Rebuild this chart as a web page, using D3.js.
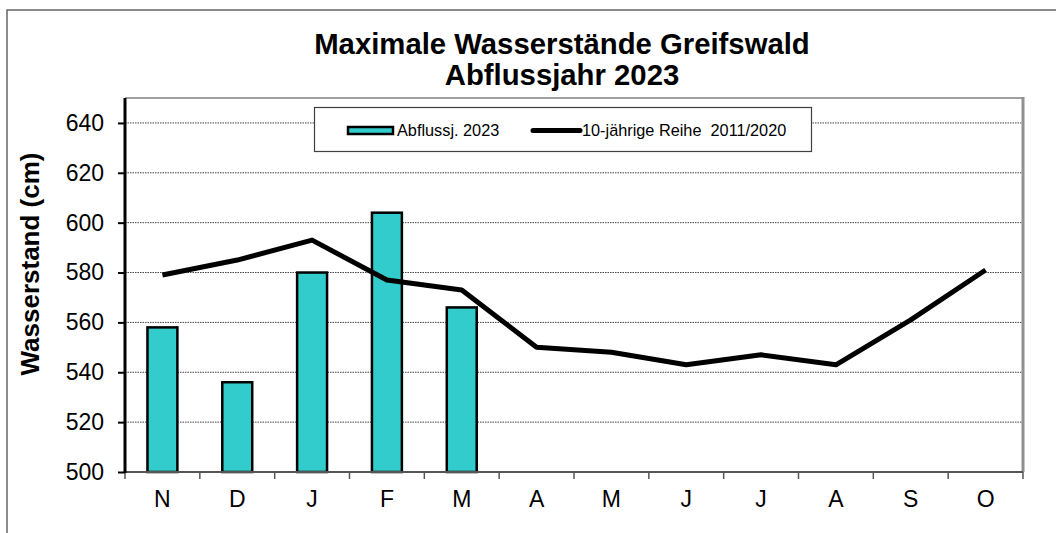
<!DOCTYPE html>
<meta charset="utf-8">
<style>
body { margin: 0; background: #fff; }
text { font-family: Arial, "Liberation Sans", sans-serif; fill: #000; }
.bar { fill: #33cccc; stroke: #000; stroke-width: 2.5; }
.grid line { stroke: #444; stroke-width: 1; stroke-dasharray: 1.5,1; }
.tick text { font-size: 23px; }
.legend text { font-size: 16.3px; }
</style>
<body>
<script src="https://cdnjs.cloudflare.com/ajax/libs/d3/7.8.5/d3.min.js"></script>
<script>
// months of the hydrological year (Nov - Oct)
const months = ["N", "D", "J", "F", "M", "A", "M", "J", "J", "A", "S", "O"];
// Abflussjahr 2023 (only Nov - Mar so far)
const values2023 = [558, 536, 580, 604, 566];
// 10-year series 2011/2020
const valuesMean = [579, 585, 593, 577, 573, 550, 548, 543, 547, 543, 561, 581];
const yTicks = [500, 520, 540, 560, 580, 600, 620, 640];
const yMax = 650;

const W = 1056, H = 533;
const margin = {top: 98, right: 33, bottom: 61, left: 125},
      width = W - margin.left - margin.right,
      height = H - margin.top - margin.bottom;

const svg = d3.select("body").append("svg")
    .attr("width", W)
    .attr("height", H);

// outer chart frame (runs off the right/bottom edge)
svg.append("path")
    .attr("d", "M7," + (H + 5) + "V10H" + (W + 5))
    .attr("fill", "none")
    .attr("stroke", "#666")
    .attr("stroke-width", 1.5);

// title
svg.append("text")
    .attr("x", 562).attr("y", 54)
    .attr("text-anchor", "middle")
    .style("font-size", "29.3px").style("font-weight", "bold")
    .text("Maximale Wasserstände Greifswald");
svg.append("text")
    .attr("x", 562).attr("y", 85)
    .attr("text-anchor", "middle")
    .style("font-size", "29.3px").style("font-weight", "bold")
    .text("Abflussjahr 2023");

// y axis title
svg.append("text")
    .attr("transform", "translate(39,264) rotate(-90)")
    .attr("text-anchor", "middle")
    .style("font-size", "26px").style("font-weight", "bold")
    .text("Wasserstand (cm)");

const g = svg.append("g")
    .attr("transform", "translate(" + margin.left + "," + margin.top + ")");

// scales
const idx = months.map((m, i) => i);
const xCat = d3.scaleBand().domain(idx).range([0, width]).padding(0);
const xBar = d3.scaleBand().domain(idx).range([0, width])
    .paddingInner(0.6).paddingOuter(0.3);
const y = d3.scaleLinear().domain([500, yMax]).range([height, 0]);

// gridlines
g.append("g").attr("class", "grid")
  .selectAll("line")
  .data(yTicks.slice(1))
  .enter().append("line")
    .attr("x1", 0).attr("x2", width)
    .attr("y1", d => y(d)).attr("y2", d => y(d));

// plot area border top/right
g.append("line")
    .attr("x1", 0).attr("x2", width + 1)
    .attr("y1", y(yMax)).attr("y2", y(yMax))
    .attr("stroke", "#a0a0a0").attr("stroke-width", 2);
g.append("line")
    .attr("x1", width).attr("x2", width)
    .attr("y1", y(yMax) - 1).attr("y2", height)
    .attr("stroke", "#909090").attr("stroke-width", 3);

// bars
g.selectAll(".bar")
    .data(values2023)
  .enter().append("rect")
    .attr("class", "bar")
    .attr("x", (d, i) => xBar(i))
    .attr("width", xBar.bandwidth())
    .attr("y", d => y(d))
    .attr("height", d => height - y(d));

// x axis
const xAxis = g.append("g")
    .attr("transform", "translate(0," + height + ")");
xAxis.append("line")
    .attr("x1", 0).attr("x2", width)
    .attr("stroke", "#555").attr("stroke-width", 2);
xAxis.selectAll(".xtick")
    .data(idx.concat([months.length]))
  .enter().append("line")
    .attr("class", "xtick")
    .attr("x1", d => d < months.length ? xCat(d) : width)
    .attr("x2", d => d < months.length ? xCat(d) : width)
    .attr("y1", 0).attr("y2", 7)
    .attr("stroke", "#555").attr("stroke-width", 1.5);
xAxis.selectAll(".xlabel")
    .data(months)
  .enter().append("text")
    .attr("class", "xlabel")
    .attr("x", (d, i) => xCat(i) + xCat.bandwidth() / 2)
    .attr("y", 35)
    .attr("text-anchor", "middle")
    .style("font-size", "23px")
    .text(d => d);

// y axis
const yAxis = g.append("g")
    .call(d3.axisLeft(y).tickValues(yTicks).tickSize(7).tickPadding(14));
yAxis.select(".domain")
    .attr("stroke", "#000").attr("stroke-width", 3)
    .attr("d", "M0," + y(yMax) + "V" + (height + 1));
yAxis.selectAll(".tick line").attr("stroke", "#000").attr("stroke-width", 2);

// 10-year line
const line = d3.line()
    .x((d, i) => xCat(i) + xCat.bandwidth() / 2)
    .y(d => y(d));
g.append("path")
    .datum(valuesMean)
    .attr("d", line)
    .attr("fill", "none")
    .attr("stroke", "#000")
    .attr("stroke-width", 5)
    .attr("stroke-linejoin", "round");

// legend
const lg = svg.append("g").attr("class", "legend");
lg.append("rect")
    .attr("x", 314.5).attr("y", 107.5)
    .attr("width", 497).attr("height", 44)
    .attr("fill", "#fff").attr("stroke", "#404040").attr("stroke-width", 1.2);
lg.append("rect")
    .attr("class", "bar")
    .attr("x", 348).attr("y", 127)
    .attr("width", 45).attr("height", 7);
lg.append("text").attr("x", 397).attr("y", 136).text("Abflussj. 2023");
lg.append("line")
    .attr("x1", 533).attr("x2", 580).attr("y1", 130.5).attr("y2", 130.5)
    .attr("stroke", "#000").attr("stroke-width", 5).attr("stroke-linecap", "round");
lg.append("text").attr("x", 582).attr("y", 136)
    .attr("xml:space", "preserve")
    .text("10-jährige Reihe  2011/2020");
</script>
</body>
